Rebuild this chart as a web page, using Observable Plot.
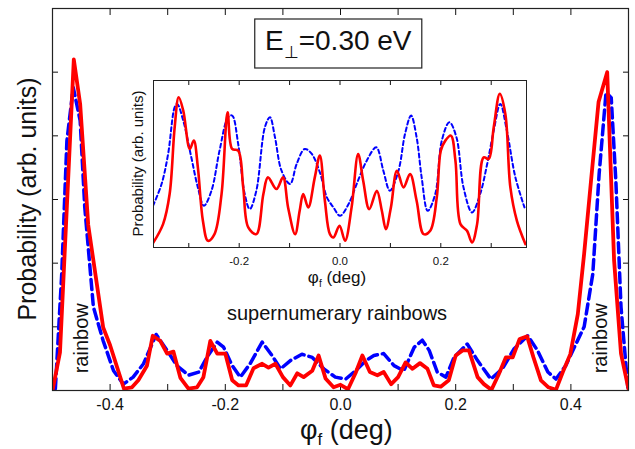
<!DOCTYPE html>
<html><head><meta charset="utf-8">
<script src="https://cdn.jsdelivr.net/npm/d3@7"></script>
<script src="https://cdn.jsdelivr.net/npm/@observablehq/plot@0.6"></script>
<style>
body{margin:0;background:#fff;}
#wrap{position:relative;width:635px;height:449px;font-family:"Liberation Sans",Arial,sans-serif;}
#inset{position:absolute;left:123px;top:75px;}
</style></head><body><div id="wrap"></div>
<script>
// ---- main plot data: [phi_f (deg), probability (arb.)] ----
const mainRed = [[-0.5,0],[-0.487,0.6],[-0.475,2.9],[-0.463,5.2],[-0.452,4.5],[-0.438,2.6],[-0.412,0.99],[-0.4,0.71],[-0.376,0.03],[-0.362,0.05],[-0.351,0.16],[-0.336,0.39],[-0.326,0.86],[-0.313,0.78],[-0.301,0.58],[-0.29,0.61],[-0.278,0.2],[-0.264,0.03],[-0.249,0.05],[-0.238,0.21],[-0.226,0.78],[-0.214,0.58],[-0.2,0.58],[-0.188,0.16],[-0.177,0.08],[-0.164,0.08],[-0.151,0.35],[-0.136,0.42],[-0.125,0.36],[-0.113,0.42],[-0.1,0.21],[-0.087,0.08],[-0.075,0.27],[-0.064,0.21],[-0.049,0.31],[-0.038,0.55],[-0.026,0.19],[-0.012,0.05],[0,0.09],[0.013,0.02],[0.026,0.27],[0.038,0.55],[0.051,0.29],[0.064,0.24],[0.075,0.29],[0.088,0.1],[0.1,0.21],[0.113,0.44],[0.125,0.34],[0.138,0.43],[0.151,0.34],[0.162,0.08],[0.174,0.06],[0.188,0.16],[0.2,0.55],[0.212,0.63],[0.223,0.63],[0.238,0.21],[0.249,0.1],[0.262,0.01],[0.274,0.24],[0.287,0.52],[0.299,0.52],[0.311,0.81],[0.324,0.85],[0.335,0.52],[0.348,0.16],[0.361,0.05],[0.374,0.01],[0.386,0.29],[0.399,0.57],[0.412,1.2],[0.423,2.15],[0.435,3.3],[0.448,4.53],[0.463,5.0],[0.475,2.04],[0.487,0.58],[0.5,0.02]];
const mainBlue = [[-0.495,0.03],[-0.484,1.83],[-0.475,3.92],[-0.464,4.76],[-0.452,4.24],[-0.444,2.88],[-0.429,1.31],[-0.412,0.78],[-0.394,0.31],[-0.377,0.1],[-0.36,0.21],[-0.342,0.42],[-0.32,0.88],[-0.301,0.63],[-0.284,0.39],[-0.264,0.24],[-0.246,0.29],[-0.232,0.52],[-0.214,0.76],[-0.203,0.68],[-0.188,0.39],[-0.174,0.21],[-0.157,0.42],[-0.136,0.76],[-0.119,0.55],[-0.104,0.34],[-0.087,0.47],[-0.067,0.57],[-0.049,0.52],[-0.029,0.34],[-0.009,0.21],[0.009,0.18],[0.026,0.31],[0.044,0.47],[0.058,0.55],[0.075,0.58],[0.093,0.39],[0.11,0.31],[0.128,0.68],[0.142,0.79],[0.154,0.63],[0.168,0.29],[0.183,0.21],[0.197,0.52],[0.22,0.73],[0.238,0.47],[0.261,0.18],[0.281,0.34],[0.301,0.65],[0.325,0.86],[0.342,0.63],[0.36,0.29],[0.374,0.18],[0.391,0.39],[0.406,0.68],[0.423,1.0],[0.438,1.83],[0.449,3.4],[0.461,4.68],[0.47,4.6],[0.478,3.3],[0.487,1.31],[0.499,0.03]];
// ---- inset data ----
const insetRed = [[-0.371,0.026],[-0.351,0.14],[-0.338,0.32],[-0.328,0.72],[-0.32,0.9],[-0.311,0.82],[-0.298,0.59],[-0.29,0.64],[-0.282,0.48],[-0.272,0.16],[-0.262,0.04],[-0.249,0.08],[-0.235,0.32],[-0.223,0.81],[-0.214,0.59],[-0.202,0.58],[-0.192,0.36],[-0.182,0.12],[-0.166,0.08],[-0.152,0.32],[-0.143,0.42],[-0.126,0.35],[-0.113,0.42],[-0.103,0.24],[-0.089,0.08],[-0.08,0.22],[-0.073,0.32],[-0.063,0.24],[-0.05,0.42],[-0.04,0.55],[-0.03,0.28],[-0.02,0.08],[-0.013,0.06],[-0.001,0.13],[0.01,0.04],[0.023,0.24],[0.036,0.56],[0.046,0.4],[0.058,0.23],[0.073,0.34],[0.083,0.22],[0.091,0.11],[0.101,0.24],[0.113,0.46],[0.126,0.36],[0.139,0.44],[0.152,0.28],[0.166,0.08],[0.179,0.1],[0.192,0.3],[0.2,0.58],[0.209,0.64],[0.22,0.67],[0.229,0.52],[0.239,0.14],[0.252,0.1],[0.262,0.03],[0.272,0.14],[0.285,0.54],[0.295,0.53],[0.305,0.72],[0.317,0.92],[0.328,0.8],[0.338,0.36],[0.351,0.16],[0.368,0.02]];
const insetBlue = [[-0.371,0.25],[-0.354,0.38],[-0.341,0.56],[-0.328,0.84],[-0.323,0.86],[-0.311,0.76],[-0.295,0.54],[-0.282,0.36],[-0.27,0.25],[-0.255,0.34],[-0.239,0.58],[-0.222,0.78],[-0.214,0.79],[-0.202,0.62],[-0.189,0.32],[-0.179,0.23],[-0.166,0.34],[-0.149,0.72],[-0.139,0.78],[-0.129,0.66],[-0.116,0.46],[-0.099,0.38],[-0.086,0.5],[-0.07,0.59],[-0.056,0.56],[-0.04,0.45],[-0.026,0.3],[-0.013,0.24],[0,0.19],[0.017,0.26],[0.033,0.38],[0.053,0.52],[0.072,0.6],[0.086,0.46],[0.099,0.34],[0.116,0.46],[0.129,0.68],[0.141,0.79],[0.152,0.66],[0.162,0.42],[0.174,0.22],[0.189,0.32],[0.202,0.64],[0.217,0.75],[0.231,0.66],[0.245,0.36],[0.262,0.21],[0.278,0.32],[0.292,0.5],[0.305,0.7],[0.318,0.86],[0.331,0.7],[0.348,0.42],[0.366,0.24]];
// ---- ticks & labels ----
const mainXTicks = [-0.4,-0.3,-0.2,-0.1,0,0.1,0.2,0.3,0.4];
const mainXLabels = [-0.4,-0.2,0,0.2,0.4];
const mainYTicks = [1,2,3,4,5];
const insetXTicks = [-0.3,-0.2,-0.1,0,0.1,0.2,0.3];
const insetXLabels = [-0.2,0,0.2];
const annotations = [
  {x:-0.449, y:0.82, text:"rainbow", rotate:-90},
  {x:0.452, y:0.82, text:"rainbow", rotate:-90}
];
const subLabel = [{x:-0.006, y:1.21, text:"supernumerary rainbows"}];

const FONT = "Liberation Sans, Arial, sans-serif";
const fmt = d => d.toFixed(1);

const main = Plot.plot({
  width: 635, height: 449,
  marginLeft: 52, marginRight: 7, marginTop: 8, marginBottom: 59,
  style: {fontFamily: FONT, background: "white", color: "#111"},
  x: {domain: [-0.5, 0.5], axis: null},
  y: {domain: [0, 6], axis: null},
  marks: [
    Plot.axisX(mainXTicks, {anchor: "bottom", tickSize: -6, tickFormat: () => "", label: null}),
    Plot.axisX(mainXTicks, {anchor: "top", tickSize: -6, tickFormat: () => "", label: null}),
    Plot.axisY(mainYTicks, {anchor: "left", tickSize: -6, tickFormat: () => "", label: null}),
    Plot.axisY(mainYTicks, {anchor: "right", tickSize: -6, tickFormat: () => "", label: null}),
    Plot.axisX(mainXLabels, {anchor: "bottom", tickSize: 0, tickPadding: 8, fontSize: 16, tickFormat: fmt, label: null}),
    Plot.line(mainBlue, {x: d => d[0], y: d => d[1], stroke: "#0000ff", strokeWidth: 3.5, strokeDasharray: "10,5", clip: true}),
    Plot.line(mainRed, {x: d => d[0], y: d => d[1], stroke: "#ff0000", strokeWidth: 3.8, clip: true}),
    Plot.text(annotations, {x: "x", y: "y", text: "text", rotate: -90, fontSize: 20, fill: "#111"}),
    Plot.text(subLabel, {x: "x", y: "y", text: "text", fontSize: 20, fill: "#111"}),
    Plot.frame({stroke: "#222", strokeWidth: 1.2})
  ]
});
document.getElementById("wrap").appendChild(main);

const xs = main.scale("x"), ys = main.scale("y");
const svg = d3.select(main);
const fx0 = xs.apply(-0.5), fx1 = xs.apply(0.5), fy0 = ys.apply(6), fy1 = ys.apply(0);
// y-axis label
svg.append("text")
  .attr("transform", `translate(${fx0 - 25},${(fy0 + fy1) / 2}) rotate(-90)`)
  .attr("text-anchor", "middle").attr("dominant-baseline", "central")
  .attr("font-size", 25).attr("font-family", FONT).attr("fill", "#111")
  .text("Probability (arb. units)");
// x-axis label with subscript
const xl = svg.append("text")
  .attr("x", xs.apply(0.011)).attr("y", fy1 + 49)
  .attr("text-anchor", "middle").attr("font-size", 27).attr("font-family", FONT).attr("fill", "#111");
xl.append("tspan").text("φ");
xl.append("tspan").attr("font-size", 17).attr("dy", 6).text("f");
xl.append("tspan").attr("dy", -6).text(" (deg)");
// title box
const bx0 = xs.apply(-0.148), bx1 = xs.apply(0.142);
svg.append("rect").attr("x", bx0).attr("y", fy0 + 11).attr("width", bx1 - bx0).attr("height", 49)
  .attr("fill", "white").attr("stroke", "#222").attr("stroke-width", 1.2);
const tt = svg.append("text").attr("x", (bx0 + bx1) / 2).attr("y", fy0 + 42)
  .attr("text-anchor", "middle").attr("font-size", 28).attr("font-family", FONT).attr("fill", "#111");
tt.append("tspan").text("E");
tt.append("tspan").attr("font-size", 17).attr("dy", 8).text("⊥");
tt.append("tspan").attr("dy", -8).text("=0.30 eV");

// ---- inset ----
const inset = Plot.plot({
  width: 408, height: 212,
  marginLeft: 30, marginRight: 5, marginTop: 5, marginBottom: 40,
  style: {fontFamily: FONT, background: "transparent", color: "#111", overflow: "visible"},
  x: {domain: [-0.37, 0.37], axis: null},
  y: {domain: [0, 1], axis: null},
  marks: [
    Plot.frame({fill: "white", stroke: "none"}),
    Plot.axisX(insetXTicks, {anchor: "bottom", tickSize: -4, tickFormat: () => "", label: null}),
    Plot.axisX(insetXTicks, {anchor: "top", tickSize: -4, tickFormat: () => "", label: null}),
    Plot.axisX(insetXLabels, {anchor: "bottom", tickSize: 0, tickPadding: 9, fontSize: 11.5, tickFormat: fmt, label: null}),
    Plot.line(insetBlue, {x: d => d[0], y: d => d[1], stroke: "#0000ff", strokeWidth: 2, strokeDasharray: "4,3", curve: "catmull-rom", clip: true}),
    Plot.line(insetRed, {x: d => d[0], y: d => d[1], stroke: "#ff0000", strokeWidth: 2.6, curve: "catmull-rom", clip: true}),
    Plot.frame({stroke: "#222", strokeWidth: 1})
  ]
});
inset.id = "inset";
document.getElementById("wrap").appendChild(inset);
const ixs = inset.scale("x"), iys = inset.scale("y");
const isvg = d3.select(inset);
const ix0 = ixs.apply(-0.37), iy0 = iys.apply(1), iy1 = iys.apply(0);
isvg.append("text")
  .attr("transform", `translate(${ix0 - 16},${(iy0 + iy1) / 2}) rotate(-90)`)
  .attr("text-anchor", "middle").attr("dominant-baseline", "central")
  .attr("font-size", 15).attr("font-family", FONT).attr("fill", "#111")
  .text("Probability (arb. units)");
const ixl = isvg.append("text").attr("x", ixs.apply(-0.005)).attr("y", iy1 + 36)
  .attr("text-anchor", "middle").attr("font-size", 17).attr("font-family", FONT).attr("fill", "#111");
ixl.append("tspan").text("φ");
ixl.append("tspan").attr("font-size", 10).attr("dy", 4).text("f");
ixl.append("tspan").attr("dy", -4).text(" (deg)");
</script></body></html>
